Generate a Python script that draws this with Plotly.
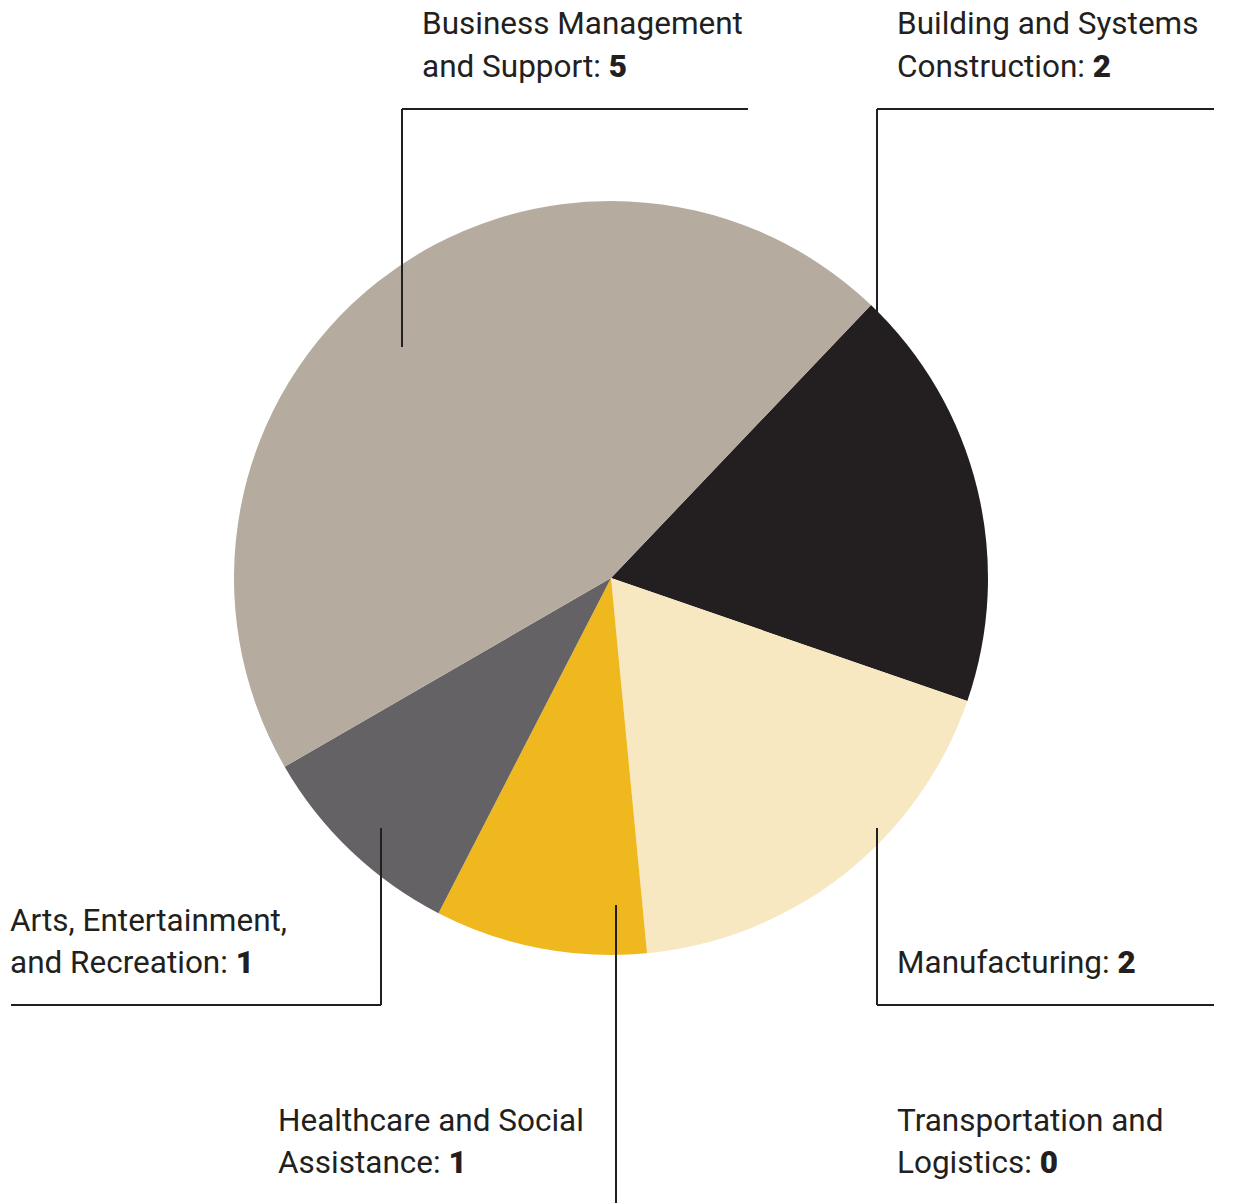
import plotly.graph_objects as go

W, H = 1233, 1203

labels = ["Building and Systems Construction", "Manufacturing", "Healthcare and Social Assistance",
          "Arts, Entertainment, and Recreation", "Business Management and Support",
          "Transportation and Logistics"]
values = [2, 2, 1, 1, 5, 0]
colors = ["#231f20", "#f7e8c1", "#f0b81f", "#646265", "#b5ab9f", "#8a8a8a"]

label_lines = {
    "Business Management and Support": ["Business Management", "and Support: "],
    "Building and Systems Construction": ["Building and Systems", "Construction: "],
    "Arts, Entertainment, and Recreation": ["Arts, Entertainment,", "and Recreation: "],
    "Healthcare and Social Assistance": ["Healthcare and Social", "Assistance: "],
    "Transportation and Logistics": ["Transportation and", "Logistics: "],
    "Manufacturing": [None, "Manufacturing: "],
}

def px(x):
    return x / W

def py(y):
    return 1 - y / H

fig = go.Figure()
fig.add_trace(go.Pie(
    labels=labels, values=values, sort=False, direction="clockwise",
    rotation=43.6, textinfo="none", hoverinfo="label+value",
    marker=dict(colors=colors, line=dict(width=0)),
    domain=dict(x=[px(234), px(988)], y=[py(955), py(201)]),
    showlegend=False,
))

ink = "#231f20"
pos = {
    "Business Management and Support": (421, 24, 66),
    "Building and Systems Construction": (896, 24, 66),
    "Arts, Entertainment, and Recreation": (9, 920, 962),
    "Healthcare and Social Assistance": (277, 1120, 1162),
    "Transportation and Logistics": (896, 1120, 1162),
    "Manufacturing": (896, None, 962),
}
fnt = dict(family="Roboto, Inter, sans-serif", size=31.5, color=ink)
for lab, val in zip(labels, values):
    x0, y1, y2 = pos[lab]
    l1, l2 = label_lines[lab]
    if l1 is not None:
        fig.add_annotation(x=px(x0), y=py(y1), xref="paper", yref="paper",
                           text=l1, showarrow=False, xanchor="left", yanchor="middle",
                           font=fnt, borderpad=0)
    fig.add_annotation(x=px(x0), y=py(y2), xref="paper", yref="paper",
                       text=l2 + "<span style='font-weight:900'>" + str(val) + "</span>",
                       showarrow=False, xanchor="left", yanchor="middle", font=fnt,
                       borderpad=0)

paths = [
    [(402, 347), (402, 109), (748, 109)],
    [(877, 345), (877, 109), (1214, 109)],
    [(877, 828), (877, 1005), (1214, 1005)],
    [(381, 828), (381, 1005), (11, 1005)],
    [(616, 905), (616, 1203)],
]
for p in paths:
    for (a, b), (c, d) in zip(p[:-1], p[1:]):
        fig.add_shape(type="line", xref="paper", yref="paper",
                      x0=px(a), y0=py(b), x1=px(c), y1=py(d),
                      line=dict(color=ink, width=2))

fig.update_layout(width=W, height=H, margin=dict(l=0, r=0, t=0, b=0),
                  paper_bgcolor="white", plot_bgcolor="white")
fig.write_html("out.html", config={"displayModeBar": False},
               post_script="document.body.style.margin='0';")
